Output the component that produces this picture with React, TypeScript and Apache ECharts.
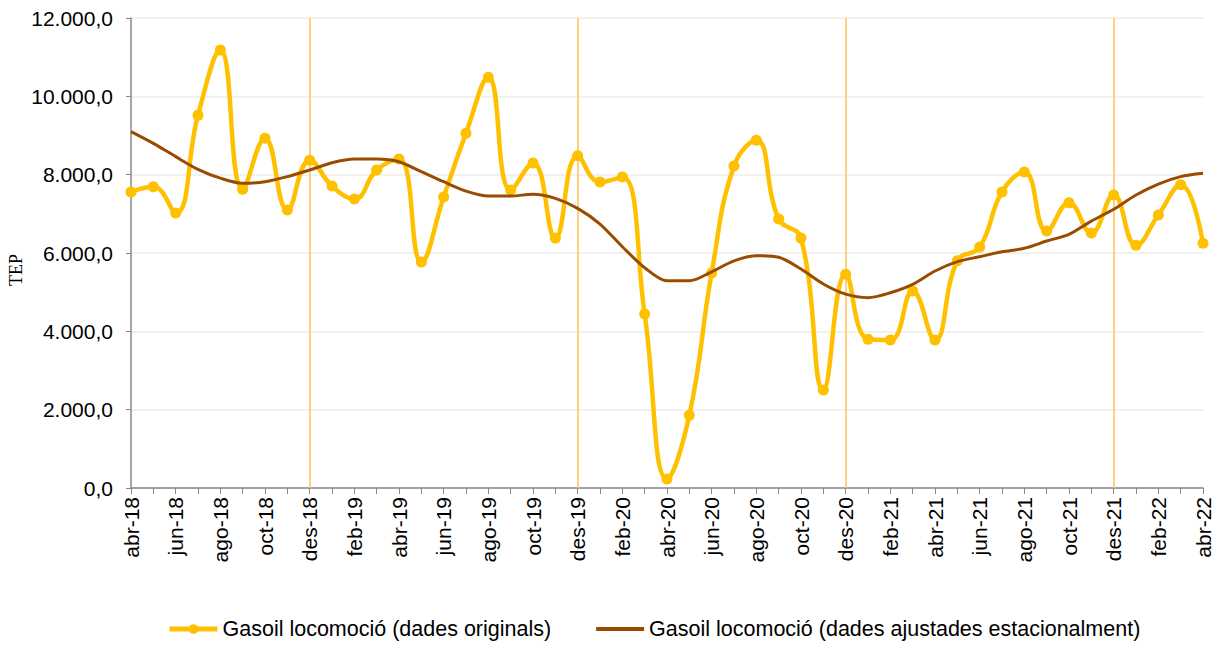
import React, { useEffect, useRef } from "react";
import * as echarts from "echarts";

const months = ["abr-18","mai-18","jun-18","jul-18","ago-18","set-18","oct-18","nov-18","des-18","gen-19","feb-19","mar-19","abr-19","mai-19","jun-19","jul-19","ago-19","set-19","oct-19","nov-19","des-19","gen-20","feb-20","mar-20","abr-20","mai-20","jun-20","jul-20","ago-20","set-20","oct-20","nov-20","des-20","gen-21","feb-21","mar-21","abr-21","mai-21","jun-21","jul-21","ago-21","set-21","oct-21","nov-21","des-21","gen-22","feb-22","mar-22","abr-22"];

const originals = [7560,7690,7020,9520,11180,7630,8930,7100,8370,7710,7380,8120,8400,5770,7430,9060,10490,7610,8300,6380,8480,7810,7940,4440,230,1860,5490,8220,8880,6870,6380,2500,5460,3800,3780,5030,3780,5800,6150,7560,8070,6560,7280,6510,7480,6200,6970,7740,6250];

const adjusted = [9100,8800,8460,8135,7910,7780,7820,7950,8120,8305,8400,8400,8330,8075,7820,7580,7455,7455,7500,7395,7140,6740,6160,5625,5290,5290,5520,5800,5930,5890,5590,5210,4950,4860,4985,5200,5540,5780,5905,6030,6120,6305,6475,6815,7115,7480,7760,7950,8035];

const yearMarks = ["des-18","des-19","des-20","des-21"];

const seriesNames = [
  "Gasoil locomoció (dades originals)",
  "Gasoil locomoció (dades ajustades estacionalment)",
];

const FONT = "'Liberation Sans', Arial, sans-serif";

function fmt(v: number): string {
  const s = Math.round(v).toString().replace(/\B(?=(\d{3})+(?!\d))/g, ".");
  return s + ",0";
}

export default function App() {
  const ref = useRef<HTMLDivElement>(null);
  useEffect(() => {
    if (!ref.current) return;
    const chart = echarts.init(ref.current, null, { renderer: "svg" });
    chart.setOption({
      animation: false,
      backgroundColor: "#ffffff",
      grid: { left: 131, right: 18, top: 18, bottom: 160, containLabel: false },
      graphic: [
        {
          type: "text",
          x: 16,
          y: 270,
          rotation: Math.PI / 2,
          style: {
            text: "TEP",
            fontFamily: "'Liberation Serif', 'DejaVu Serif', serif",
            fontSize: 18,
            fontWeight: "normal",
            fill: "#000",
            textAlign: "center",
            textVerticalAlign: "middle",
          },
        },
      ],
      legend: {
        bottom: 3,
        left: 162,
        itemWidth: 48,
        itemHeight: 12,
        itemGap: 45,
        textStyle: { fontFamily: FONT, fontSize: 21.5, color: "#000" },
        data: [
          { name: seriesNames[0], lineStyle: { width: 5 } },
          {
            name: seriesNames[1],
            icon: "path://M0,0 L48,0 L48,4 L0,4 Z",
            itemStyle: { color: "#994C00" },
          },
        ],
      },
      xAxis: {
        type: "category",
        data: months,
        boundaryGap: false,
        axisLine: { lineStyle: { color: "#888", width: 1.5 } },
        axisTick: { show: true, interval: 0, length: 6, lineStyle: { color: "#888" } },
        axisLabel: {
          interval: 1,
          rotate: 90,
          margin: 9,
          fontFamily: FONT,
          fontSize: 21,
          color: "#000",
        },
        splitLine: { show: false },
      },
      yAxis: {
        type: "value",
        min: 0,
        max: 12000,
        interval: 2000,
        axisLine: { show: true, lineStyle: { color: "#888", width: 1.5 } },
        axisTick: { show: true, length: 5, lineStyle: { color: "#888" } },
        axisLabel: {
          formatter: (v: number) => fmt(v),
          fontFamily: FONT,
          fontSize: 21,
          color: "#000",
          margin: 18,
        },
        splitLine: { lineStyle: { color: "#ececec", width: 1.5 } },
      },
      series: [
        {
          name: seriesNames[0],
          type: "line",
          data: originals,
          smooth: 0.45,
          symbol: "circle",
          symbolSize: 11,
          itemStyle: { color: "#FFC000" },
          lineStyle: { color: "#FFC000", width: 4.5 },
          z: 3,
          markLine: {
            silent: true,
            symbol: ["none", "none"],
            label: { show: false },
            lineStyle: { color: "#FFC55C", width: 1.6, type: "solid", opacity: 1 },
            data: yearMarks.map((m) => ({ xAxis: m })),
            z: 1,
          },
        },
        {
          name: seriesNames[1],
          type: "line",
          data: adjusted,
          smooth: 0.3,
          symbol: "none",
          itemStyle: { color: "#994C00" },
          lineStyle: { color: "#994C00", width: 3 },
          z: 4,
        },
      ],
    });
    return () => chart.dispose();
  }, []);
  return (
    <div
      ref={ref}
      style={{ position: "fixed", left: 0, top: 0, width: 1221, height: 648, background: "#fff" }}
    />
  );
}
